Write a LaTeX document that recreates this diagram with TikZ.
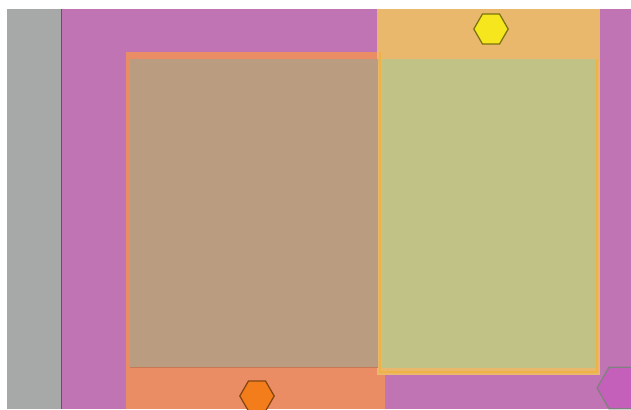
\documentclass[tikz,border=0pt]{standalone}
\usepackage{tikz}
\usetikzlibrary{shapes.geometric}
\definecolor{wallgray}{RGB}{167,169,168}
\definecolor{zonepink}{RGB}{193,116,180}
\definecolor{edgepurple}{RGB}{130,60,140}
\definecolor{zonesalmon}{RGB}{235,141,100}
\definecolor{zoneorange}{RGB}{233,184,108}
\definecolor{rimorange}{RGB}{240,178,66}
\definecolor{innerbrown}{RGB}{186,157,128}
\definecolor{innergreen}{RGB}{193,194,134}
\definecolor{hexyellow}{RGB}{246,230,30}
\definecolor{hexorange}{RGB}{242,125,26}
\definecolor{hexpink}{RGB}{196,96,186}

\begin{document}
\begin{tikzpicture}[
    x=0.25mm,y=-0.25mm,
    hexmark/.style={regular polygon,regular polygon sides=6,minimum size=8.6mm,
      inner sep=0pt,line width=0.9pt}
  ]
    \useasboundingbox (0,0) rectangle (631,409);
    \fill[white] (0,0) rectangle (631,409);

    % background zones
    \fill[wallgray] (7,9) rectangle (61,409);
    \fill[zonepink] (61,9) rectangle (631,409);
    \draw[edgepurple,line width=1pt] (61.5,9) -- (61.5,409);
    \fill[zonesalmon] (126,52) rectangle (385,409);
    \fill[zoneorange] (377,9) rectangle (600,375);

    % inner area
    \fill[innerbrown] (130,59) rectangle (378,368);
    \fill[innergreen] (382,59) rectangle (597,368);
    \draw[zonesalmon!85!black,line width=0.5pt] (130,367.5) -- (378,367.5);
    \draw[rimorange,line width=1.6pt] (380,52) -- (380,372) -- (597,372) -- (597,59);

    % markers
    \node[hexmark,fill=hexyellow,draw=hexyellow!50!black] (hexA) at (491,29) {};
    \node[hexmark,fill=hexorange,draw=hexorange!55!black] (hexB) at (257,396) {};
    \node[hexmark,fill=hexpink,draw=gray,minimum size=12mm] (hexC) at (621,388) {};
  \end{tikzpicture}
\end{document}
